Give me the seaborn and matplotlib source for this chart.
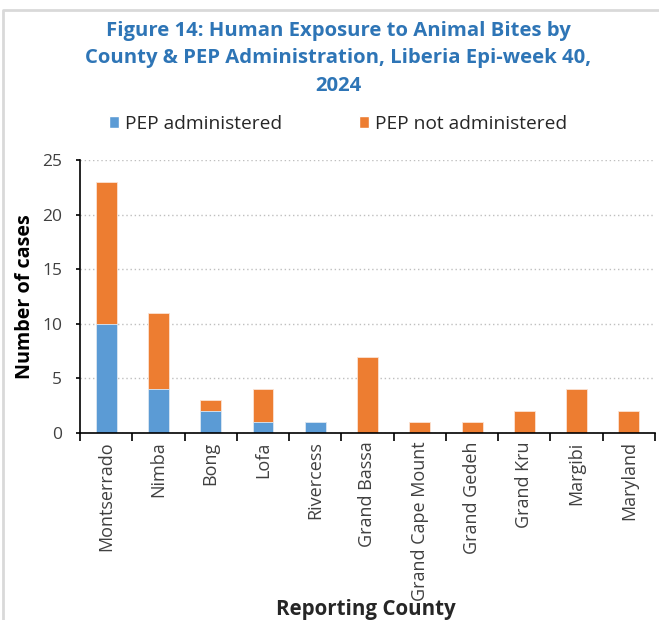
import matplotlib
matplotlib.use("Agg")
import matplotlib.pyplot as plt
from matplotlib.lines import Line2D
from matplotlib.patches import Patch
import seaborn as sns
import pandas as pd

counties = ["Montserrado", "Nimba", "Bong", "Lofa", "Rivercess", "Grand Bassa",
            "Grand Cape Mount", "Grand Gedeh", "Grand Kru", "Margibi", "Maryland"]
pep_administered = [10, 4, 2, 1, 1, 0, 0, 0, 0, 0, 0]
pep_not_administered = [13, 7, 1, 3, 0, 7, 1, 1, 2, 4, 2]
y_ticks = [0, 5, 10, 15, 20, 25]

blue = "#5B9BD5"
orange = "#ED7D31"
title_color = "#2E75B6"

sns.set_theme(style="white")
plt.rcParams["font.family"] = ["Open Sans", "DejaVu Sans"]

df = pd.DataFrame({
    "county": counties,
    "given": pep_administered,
    "not_given": pep_not_administered,
})
df["total"] = df["given"] + df["not_given"]

fig = plt.figure(figsize=(6.59, 6.2), dpi=100)
ax = fig.add_axes([80 / 659, 1 - 433 / 620, 575 / 659, 273 / 620])

# stacked look: full total in orange, administered portion drawn over it in blue
sns.barplot(data=df, x="county", y="total", order=counties, color=orange,
            width=0.4, saturation=1, edgecolor="#FBE3D3", linewidth=0.6, ax=ax)
sns.barplot(data=df, x="county", y="given", order=counties, color=blue,
            width=0.4, saturation=1, edgecolor="#DCEAF7", linewidth=0.6, ax=ax)

ax.set_xlim(-0.5, len(counties) - 0.5)
ax.set_ylim(0, 25)
ax.set_yticks(y_ticks)
ax.yaxis.grid(True, linestyle=(0, (1, 2)), color="#BFBFBF", linewidth=1)
ax.set_axisbelow(True)

for side in ["top", "right"]:
    ax.spines[side].set_visible(False)
for side in ["left", "bottom"]:
    ax.spines[side].set_color("black")
    ax.spines[side].set_linewidth(1.2)

ax.tick_params(axis="y", which="major", left=True, length=3, width=1.2,
               color="black", labelsize=12.5, labelcolor="#404040", pad=10)
ax.set_xticks(range(len(counties)))
ax.set_xticklabels(counties, rotation=90, fontsize=13, color="#404040")
ax.tick_params(axis="x", which="major", length=0, pad=6)
ax.set_xticks([i - 0.5 for i in range(len(counties) + 1)], minor=True)
ax.tick_params(axis="x", which="minor", bottom=True, length=6, width=1.2, color="black")

ax.set_xlabel("")
ax.set_ylabel("Number of cases", fontsize=14.2, fontweight="bold", color="black")
ax.yaxis.set_label_coords(-0.078, 0.5)

fig.text(366 / 659, 1 - 610 / 620, "Reporting County", fontsize=14.8,
         fontweight="bold", ha="center", va="center")

fig.text(338 / 659, 1 - 58.5 / 620,
         "Figure 14: Human Exposure to Animal Bites by\n"
         "County & PEP Administration, Liberia Epi-week 40,\n2024",
         fontsize=14.6, fontweight="bold", color=title_color, ha="center", va="center",
         linespacing=1.52)

handles = [Patch(facecolor=blue, label="PEP administered"),
           Patch(facecolor=orange, label="PEP not administered")]
fig.legend(handles=handles, loc="center", bbox_to_anchor=(338 / 659, 1 - 124 / 620),
           ncol=2, frameon=False, fontsize=13.8, handlelength=0.55, handleheight=0.55,
           handletextpad=0.3, columnspacing=4.0)

# outer chart frame edge
fig.add_artist(Line2D([3 / 659, 3 / 659, 1.0], [0.0, 1 - 10 / 620, 1 - 10 / 620],
                      transform=fig.transFigure, color="#D9D9D9", linewidth=2))

fig.savefig("out.png", dpi=100)
